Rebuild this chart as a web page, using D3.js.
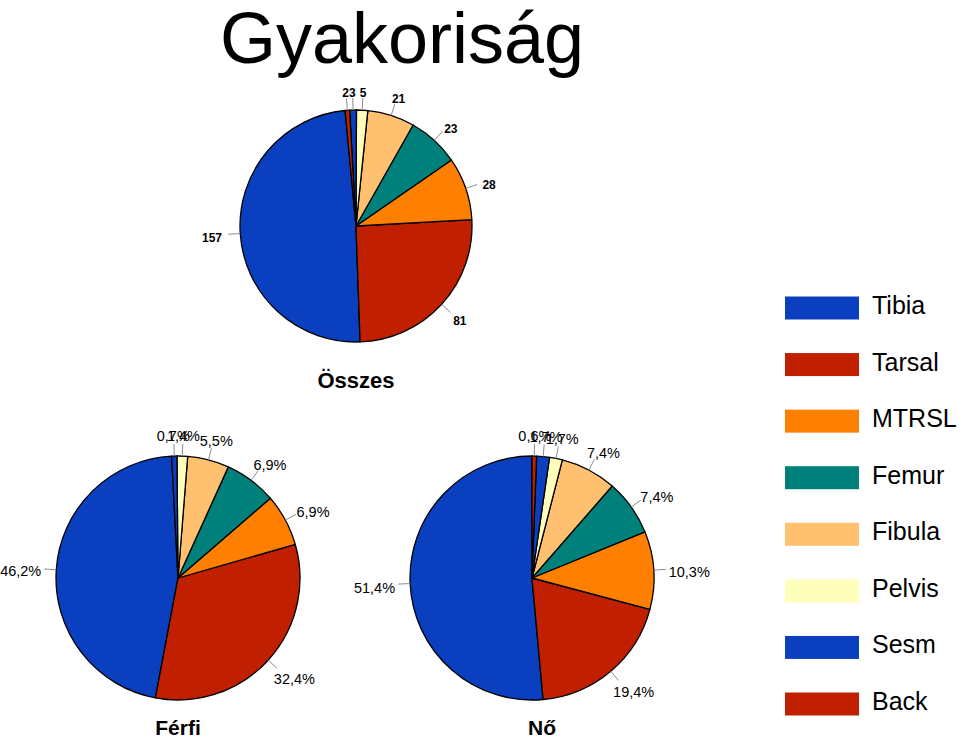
<!DOCTYPE html>
<html>
<head>
<meta charset="utf-8">
<script src="https://cdn.jsdelivr.net/npm/d3@7"></script>
<style>
  html, body { margin: 0; padding: 0; background: #fff; }
  svg { display: block; font-family: "Liberation Sans", Arial, sans-serif; }
</style>
</head>
<body>
<svg id="chart" width="960" height="739"></svg>
<script>
// ---- data ----
const categories = ["Tibia", "Tarsal", "MTRSL", "Femur", "Fibula", "Pelvis", "Sesm", "Back"];
const osszesValues = [157, 81, 28, 23, 21, 5, 3, 2];
const ferfiValues = [46.2, 32.4, 6.9, 6.9, 5.5, 1.4, 0.7, 0];
const noValues = [51.4, 19.4, 10.3, 7.4, 7.4, 1.7, 1.7, 0.6];
const colors = ["#0a3fbf", "#c02000", "#ff8000", "#00807a", "#ffc070", "#ffffbc", "#0a3fbf", "#c02000"];
const titleText = "Gyakoriság";
const pieTitles = ["Összes", "Férfi", "Nő"];

const svg = d3.select("#chart");
const color = d3.scaleOrdinal().domain(categories).range(colors);

svg.append("text")
  .attr("x", 402).attr("y", 63)
  .attr("text-anchor", "middle")
  .attr("font-size", 72)
  .attr("fill", "#000")
  .text(titleText);

function drawPie(values, cx, cy, r, offsetDeg, fmt, labelFont, gx, gy) {
  const off = offsetDeg * Math.PI / 180;
  const data = categories.map((c, i) => ({ cat: c, value: values[i] }));
  const pie = d3.pie().sort(null).value(d => d.value)
    .startAngle(off).endAngle(off - 2 * Math.PI);
  const arcs = pie(data);
  const arc = d3.arc().innerRadius(0).outerRadius(r);
  const g = svg.append("g").attr("transform", `translate(${cx},${cy})`);
  g.selectAll("path.slice").data(arcs.filter(a => a.value > 0)).join("path")
    .attr("class", "slice")
    .attr("d", arc)
    .attr("fill", d => color(d.data.cat))
    .attr("stroke", "#000")
    .attr("stroke-width", 1.3)
    .attr("stroke-linejoin", "round");

  arcs.filter(a => a.value > 0).forEach(a => {
    const m = (a.startAngle + a.endAngle) / 2;
    const s = Math.sin(m), c = -Math.cos(m);
    g.append("line")
      .attr("x1", s * r).attr("y1", c * r)
      .attr("x2", s * (r + 12)).attr("y2", c * (r + 12))
      .attr("stroke", "#8c8c8c").attr("stroke-width", 1);
    const t = g.append("text")
      .attr("font-size", labelFont.size)
      .attr("font-weight", labelFont.weight)
      .attr("fill", "#000")
      .attr("x", 0).attr("y", 0)
      .text(fmt(a.data.value));
    const bb = t.node().getBBox();
    const ctrX = s * (r + gx) + s * bb.width / 2;
    const ctrY = c * (r + gy) + 3;
    t.attr("x", ctrX - bb.width / 2 - bb.x)
     .attr("y", ctrY - bb.height / 2 - bb.y);
  });
}

const fmtCount = v => String(v);
const fmtPct = v => v.toFixed(1).replace(".", ",") + "%";

drawPie(osszesValues, 356, 226, 116, -5.4, fmtCount, { size: 12, weight: "bold" }, 18, 20);
drawPie(ferfiValues, 178, 578, 122, -3, fmtPct, { size: 14.5, weight: "normal" }, 15, 23);
drawPie(noValues, 532, 578, 122, 0, fmtPct, { size: 14.5, weight: "normal" }, 15, 23);

// pie titles
const titlePos = [[356, 388], [178, 735], [542, 735]];
pieTitles.forEach((t, i) => {
  svg.append("text")
    .attr("x", titlePos[i][0]).attr("y", titlePos[i][1])
    .attr("text-anchor", "middle")
    .attr("font-size", i === 0 ? 22 : 21)
    .attr("font-weight", "bold")
    .text(t);
});

// legend
const ly = d3.scalePoint().domain(categories).range([308, 704]);
const lg = svg.append("g");
categories.forEach(c => {
  lg.append("rect")
    .attr("x", 785).attr("y", ly(c) - 11.5)
    .attr("width", 74).attr("height", 23)
    .attr("fill", color(c));
  lg.append("text")
    .attr("x", 872).attr("y", ly(c) + 6)
    .attr("font-size", 25)
    .attr("fill", "#000")
    .text(c);
});
</script>
</body>
</html>
